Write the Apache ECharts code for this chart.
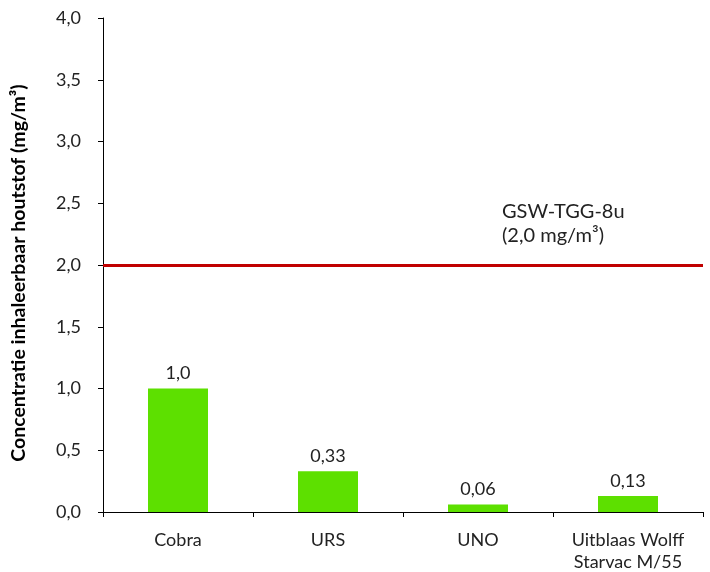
<!DOCTYPE html>
<html><head><meta charset="utf-8">
<script src="https://cdn.jsdelivr.net/npm/echarts@6/dist/echarts.min.js"></script>
<style>html,body{margin:0;padding:0;background:#fff}#c{width:710px;height:572px}</style>
</head><body><div id="c"></div>
<script>
const categories = ['Cobra', 'URS', 'UNO', 'Uitblaas Wolff\nStarvac M/55'];
const values = [1.0, 0.33, 0.06, 0.13];
const valueLabels = ['1,0', '0,33', '0,06', '0,13'];
const limitValue = 2.0;
const limitLabel = 'GSW-TGG-8u\n(2,0 mg/m³)';
const yTitle = 'Concentratie inhaleerbaar houtstof (mg/m³)';

const font = 'Lato, "Open Sans", sans-serif';
const chart = echarts.init(document.getElementById('c'));
chart.setOption({
  animation: false,
  grid: {left: 103, right: 7, top: 18, bottom: 60, containLabel: false, outerBoundsMode: 'none'},
  xAxis: {
    type: 'category', data: categories,
    axisLine: {lineStyle: {color: '#000', width: 1}},
    axisTick: {show: true, length: 5, interval: 0, lineStyle: {color: '#000'}},
    axisLabel: {color: '#222', fontFamily: font, fontSize: 18, margin: 17, lineHeight: 22, interval: 0, hideOverlap: false}
  },
  yAxis: {
    type: 'value', min: 0, max: 4, interval: 0.5,
    name: yTitle, nameLocation: 'middle', nameGap: 74,
    nameTextStyle: {fontFamily: font, fontSize: 19.5, fontWeight: 'bold', color: '#000', padding: [0, 16, 0, 0]},
    axisLine: {show: true, lineStyle: {color: '#000'}},
    axisTick: {show: true, length: 5, lineStyle: {color: '#000'}},
    splitLine: {show: false},
    axisLabel: {color: '#222', fontFamily: font, fontSize: 18, margin: 22,
      formatter: v => v.toFixed(1).replace('.', ',')}
  },
  series: [{
    type: 'bar', data: values, barWidth: '40%',
    itemStyle: {color: '#5de000'},
    label: {show: true, position: 'top', distance: 6, color: '#222', fontFamily: font, fontSize: 18,
      formatter: p => valueLabels[p.dataIndex]},
    markLine: {
      silent: true, symbol: 'none',
      lineStyle: {color: '#c00000', width: 3, type: 'solid'},
      label: {show: false},
      data: [{yAxis: limitValue}]
    }
  }],
  graphic: [{
    type: 'text', left: 502, top: 200,
    style: {text: limitLabel, fontFamily: font, fontSize: 20, fill: '#222', lineHeight: 24}
  }]
});
</script></body></html>
